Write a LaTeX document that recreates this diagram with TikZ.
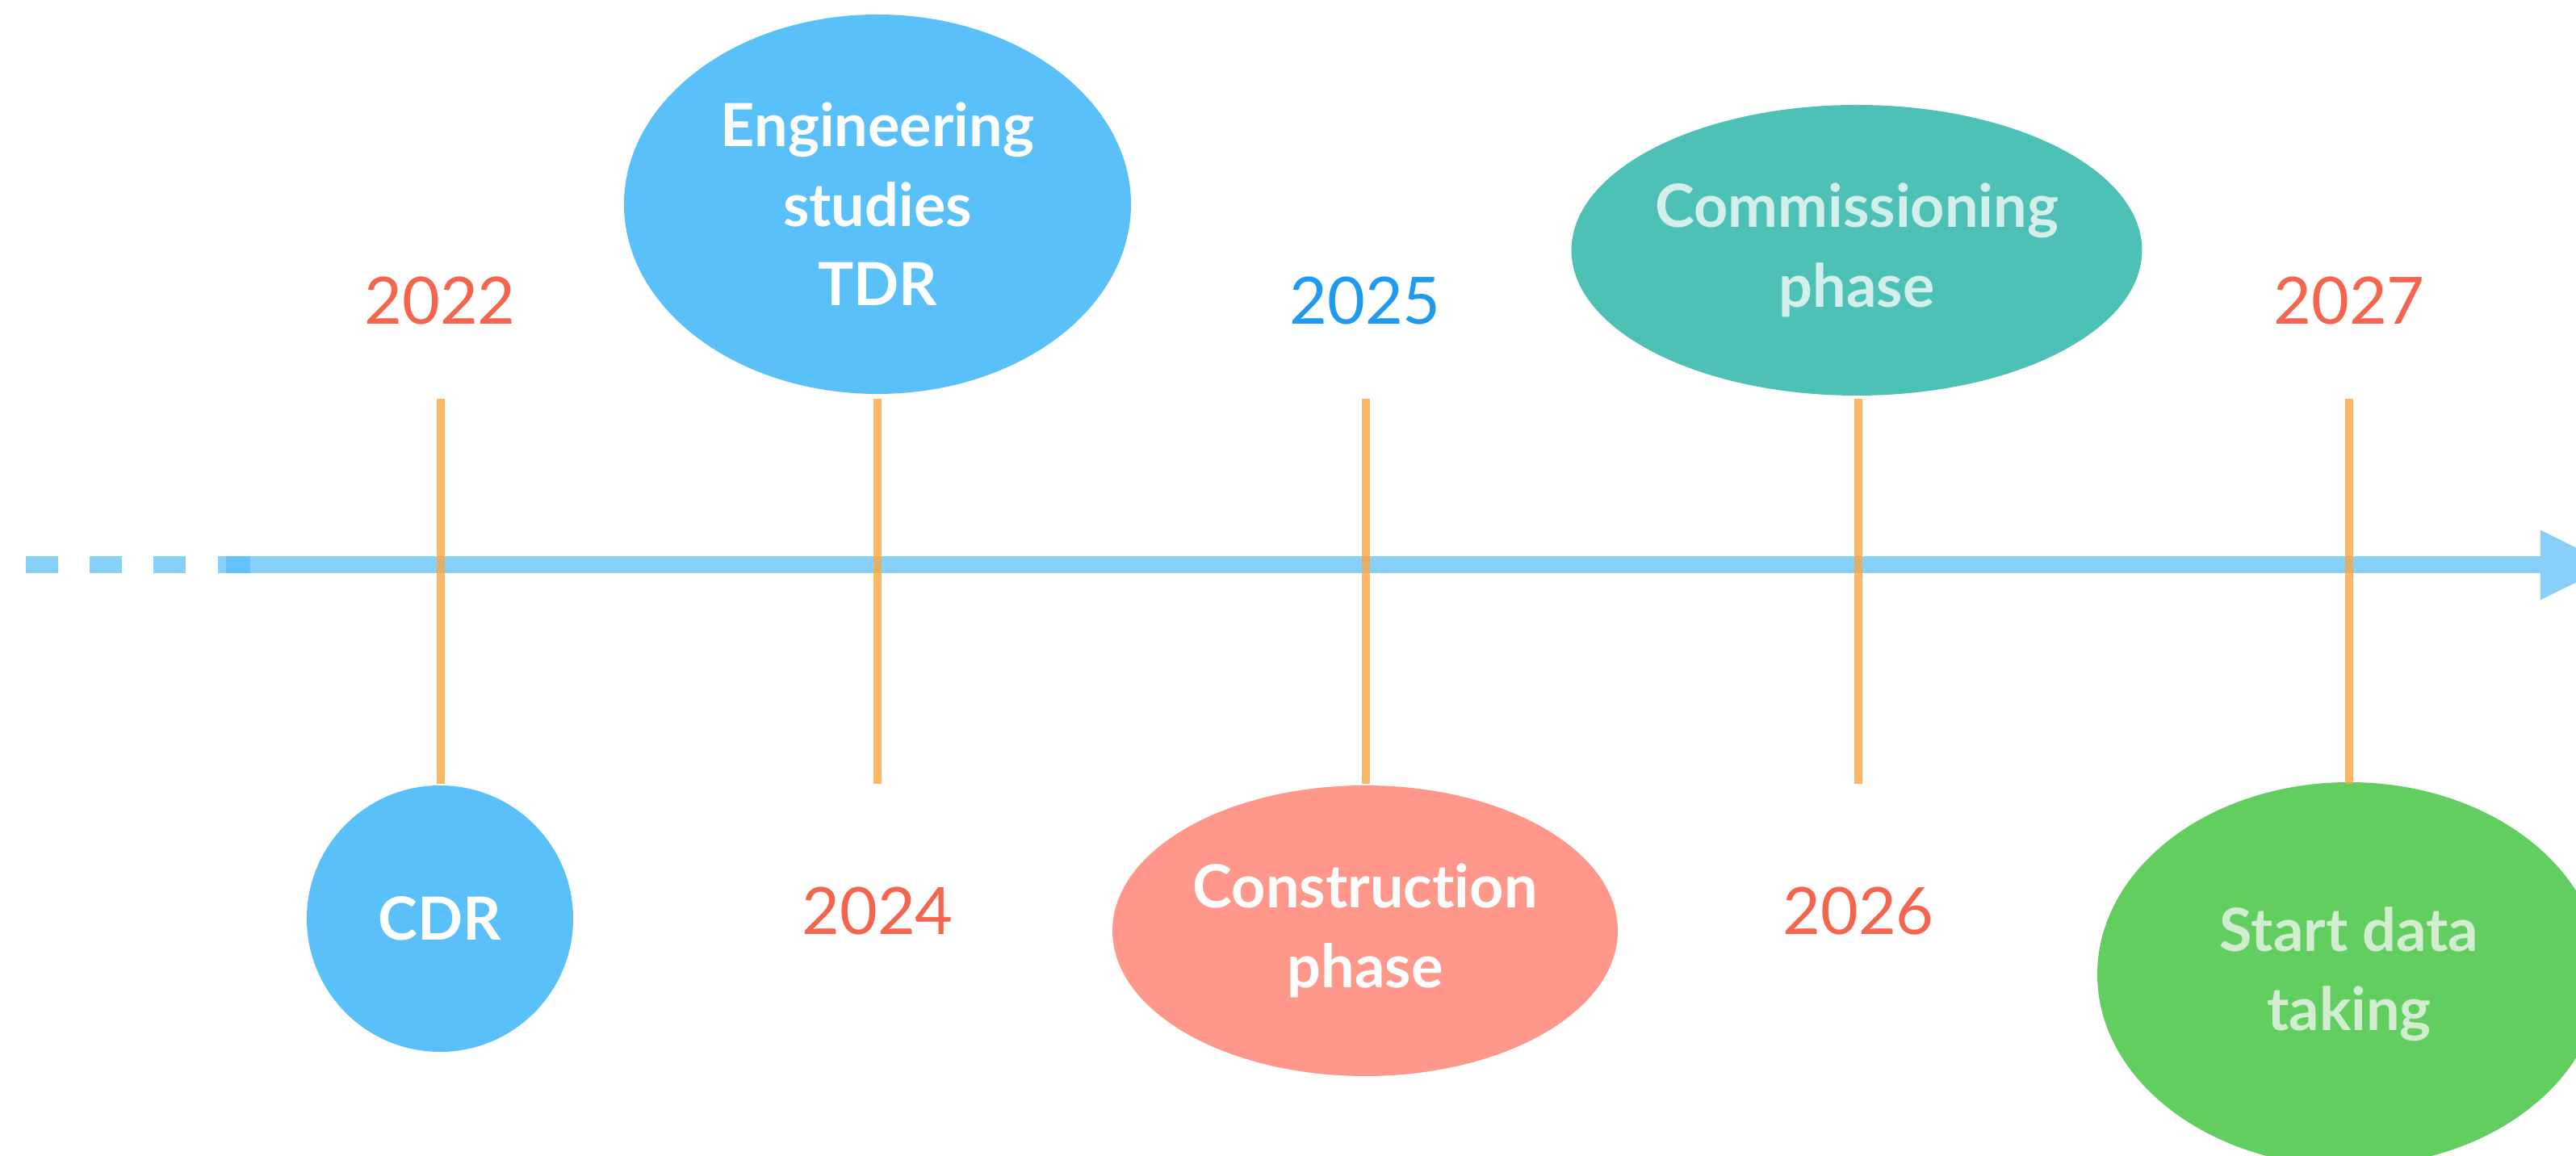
\documentclass[tikz,border=0pt]{standalone}
\usepackage{fontspec}
\setmainfont[Ligatures={NoCommon,NoDiscretionary,NoRare}]{Lato}
\usetikzlibrary{arrows.meta,shapes.geometric}
\definecolor{axisblue}{HTML}{86D0FA}
\definecolor{axisdark}{HTML}{62C3FA}
\definecolor{tickorange}{HTML}{FCA63E}
\definecolor{yearred}{HTML}{F5644E}
\definecolor{yearblue}{HTML}{1E9BF0}
\definecolor{cblue}{HTML}{5AC0FA}
\definecolor{cteal}{HTML}{4DC1B6}
\definecolor{csalmon}{HTML}{FF978B}
\definecolor{cgreen}{HTML}{62CE60}
\definecolor{tealtext}{HTML}{D3EFE9}
\definecolor{greentext}{HTML}{D2ECD0}
\tikzset{
  axisline/.style={line width=0.21cm, draw=axisblue},
  tickline/.style={line width=0.10cm, draw=tickorange, draw opacity=0.8},
  year/.style={font=\fontsize{23}{27}\selectfont, text=yearred, inner sep=0pt},
  phasebox/.style={ellipse, inner sep=0pt, align=center, text=white,
    font=\fontsize{21}{28}\selectfont\bfseries},
}
\begin{document}
\begin{tikzpicture}
\useasboundingbox (0,0) rectangle (31.91,14.32);
% axis
\coordinate (ds) at (0.32,7.32);
\coordinate (de) at (2.31,7.32);
\coordinate (axs) at (2.70,7.32);
\coordinate (axe) at (32.36,7.32);
\coordinate (ovs) at (2.80,7.32);
\coordinate (ove) at (3.10,7.32);
\draw[axisline, dash pattern=on 0.40cm off 0.39cm] (ds) -- (de);
\draw[axisline, -{Triangle[length=8.9mm,width=8mm]}] (axs) -- (axe);
\draw[line width=0.21cm, draw=axisdark] (ovs) -- (ove);
% phase ellipses
\node[phasebox, fill=cblue, minimum width=3.30cm, minimum height=3.30cm] (cdr) at (5.45,2.94) {CDR};
\node[phasebox, fill=cblue, minimum width=6.28cm, minimum height=4.70cm] (eng) at (10.87,11.79) {Engineering\\studies\\TDR};
\node[phasebox, fill=csalmon, minimum width=6.26cm, minimum height=3.60cm] (con) at (16.91,2.79) {Construction\\phase};
\node[phasebox, fill=cteal, text=tealtext, minimum width=6.94cm, minimum height=3.60cm] (com) at (23.00,11.22) {Commissioning\\phase};
\node[phasebox, fill=cgreen, text=greentext, minimum width=6.24cm, minimum height=4.76cm] (sdt) at (29.10,2.25) {Start data\\taking};
% ticks
\coordinate (t1) at (5.46,9.38);  \coordinate (b1) at (5.46,4.61);
\coordinate (t2) at (10.87,9.38); \coordinate (b2) at (10.87,4.61);
\coordinate (t3) at (16.92,9.38); \coordinate (b3) at (16.92,4.61);
\coordinate (t4) at (23.02,9.38); \coordinate (b4) at (23.02,4.61);
\coordinate (t5) at (29.10,9.38); \coordinate (b5) at (29.10,4.61);
\draw[tickline] (t1) -- (b1);
\draw[tickline] (t2) -- (b2);
\draw[tickline] (t3) -- (b3);
\draw[tickline] (t4) -- (b4);
\draw[tickline] (t5) -- (b5);
% years
\node[year] (y22) at (5.45,10.59) {2022};
\node[year] (y24) at (10.87,3.03) {2024};
\node[year, text=yearblue] (y25) at (16.91,10.59) {2025};
\node[year] (y26) at (23.02,3.03) {2026};
\node[year] (y27) at (29.10,10.59) {2027};
\end{tikzpicture}
\end{document}
